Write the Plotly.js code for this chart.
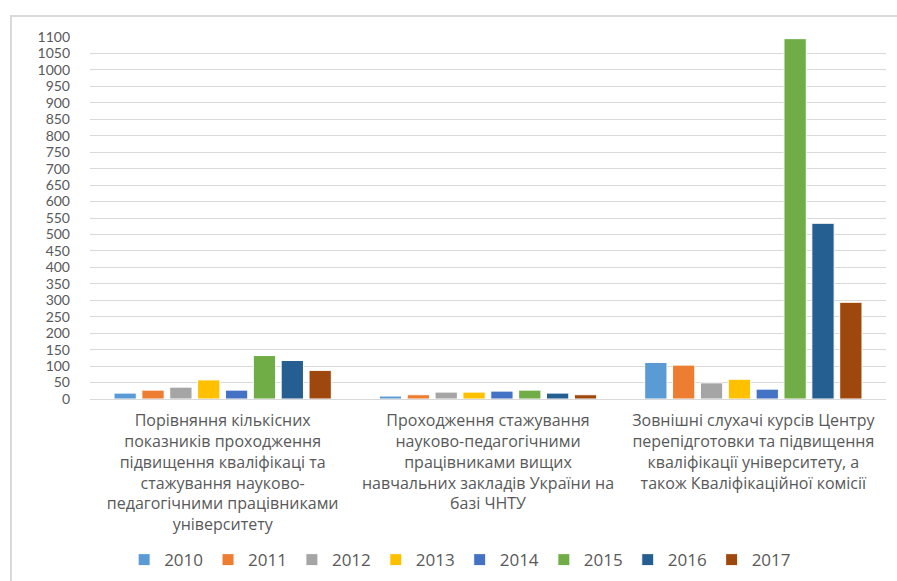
<!DOCTYPE html>
<html>
<head>
<meta charset="utf-8">
<script src="https://cdn.plot.ly/plotly-3.0.1.min.js"></script>
<style>
  body { margin: 0; background: #fff; }
  #chart { width: 897px; height: 581px; position: relative; }
  #frame { position: absolute; left: 10px; top: 15px; width: 900px; height: 580px;
           border-left: 2px solid #d9d9d9; border-top: 2px solid #d9d9d9; pointer-events: none; }
</style>
</head>
<body>
<div id="chart"></div>
<div id="frame"></div>
<script>
// Categories (x axis labels, wrapped as in the original)
var categories = [
    "Порівняння кількісних<br>показників проходження<br>підвищення кваліфікаці та<br>стажування науково-<br>педагогічними працівниками<br>університету",
    "Проходження стажування<br>науково-педагогічними<br>працівниками вищих<br>навчальних закладів України на<br>базі ЧНТУ",
    "Зовнішні слухачі курсів Центру<br>перепідготовки та підвищення<br>кваліфікації університету, а<br>також Кваліфікаційної комісії"
];

// Values per year
var years = ["2010", "2011", "2012", "2013", "2014", "2015", "2016", "2017"];
var v2010 = [18, 9, 111];
var v2011 = [27, 13, 103];
var v2012 = [36, 21, 49];
var v2013 = [58, 21, 60];
var v2014 = [27, 24, 30];
var v2015 = [132, 27, 1095];
var v2016 = [117, 18, 534];
var v2017 = [87, 13, 294];

var seriesValues = [v2010, v2011, v2012, v2013, v2014, v2015, v2016, v2017];
var colors = ["#5B9BD5", "#ED7D31", "#A5A5A5", "#FFC000", "#4472C4", "#70AD47", "#255E91", "#9E480E"];

var yTicks = [];
for (var t = 0; t <= 1100; t += 50) yTicks.push(t);

var data = years.map((year, i) => ({
    x: categories,
    y: seriesValues[i],
    name: year,
    type: "bar",
    marker: { color: colors[i], line: { color: "#ffffff", width: 1 } },
    hoverinfo: "y+name"
}));

var layout = {
    width: 897,
    height: 581,
    margin: { l: 90, r: 11, t: 37, b: 182, autoexpand: false },
    paper_bgcolor: "#ffffff",
    plot_bgcolor: "#ffffff",
    font: { family: "Open Sans, sans-serif", color: "#595959" },
    barmode: "group",
    bargap: 0.16,
    bargroupgap: 0.2,
    xaxis: {
        type: "category",
        automargin: false,
        tickfont: { size: 16, color: "#595959" },
        ticklabelstandoff: 7,
        showline: true,
        linecolor: "#d9d9d9",
        linewidth: 1,
        ticks: "",
        showgrid: false
    },
    yaxis: {
        range: [0, 1100],
        automargin: false,
        tickvals: yTicks,
        ticktext: yTicks.map(String),
        tickfont: { family: "Lato, sans-serif", size: 14, color: "#595959" },
        ticklabelstandoff: 19,
        gridcolor: "#d9d9d9",
        gridwidth: 1,
        zeroline: false,
        showline: false,
        ticks: ""
    },
    legend: {
        orientation: "h",
        x: 0.465,
        xanchor: "center",
        yref: "container",
        y: 0.036,
        yanchor: "middle",
        font: { size: 17, color: "#595959" },
        itemwidth: 30,
        traceorder: "normal"
    },
    showlegend: true
};

Plotly.newPlot("chart", data, layout, { displayModeBar: false, staticPlot: true });
</script>
</body>
</html>
